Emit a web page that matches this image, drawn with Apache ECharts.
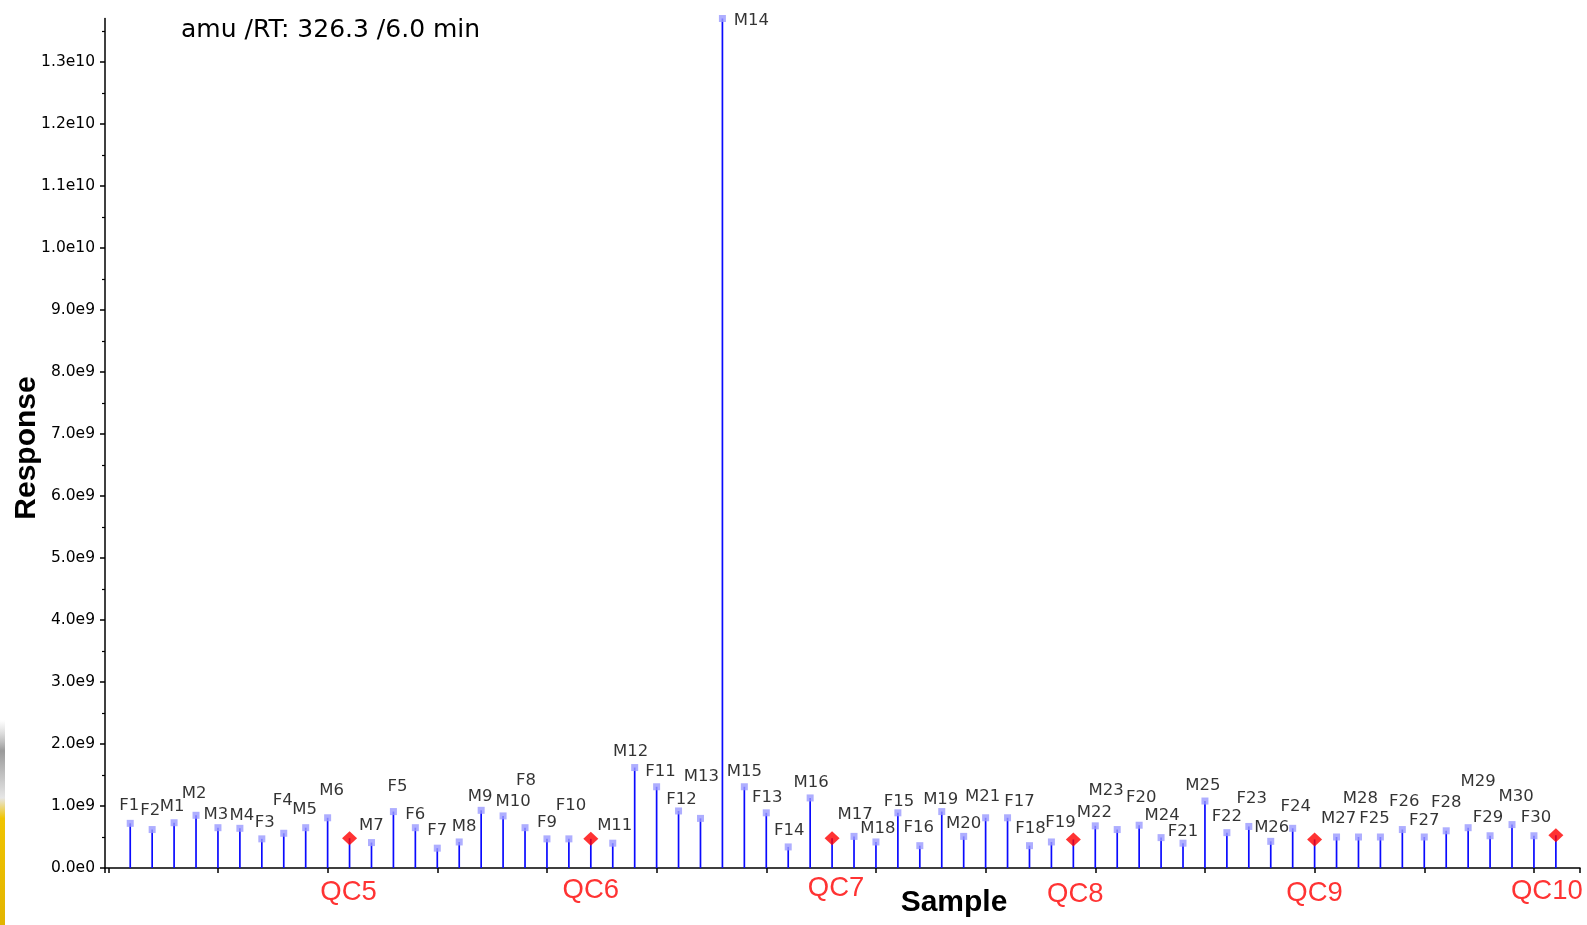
<!DOCTYPE html>
<html>
<head>
<meta charset="utf-8">
<script src="https://cdn.jsdelivr.net/npm/echarts@6/dist/echarts.min.js"></script>
<style>
  html, body { margin: 0; padding: 0; background: #ffffff; }
  #chart { width: 1587px; height: 925px; }
</style>
</head>
<body>
<div id="chart"></div>
<script>
// Injection order of the run (F = female, M = male, QC = pooled quality control)
const sampleNames = [
  'F1','F2','M1','M2','M3','M4','F3','F4','M5','M6','QC5',
  'M7','F5','F6','F7','M8','M9','M10','F8','F9','F10','QC6',
  'M11','M12','F11','F12','M13','M14','M15','F13','F14','M16','QC7',
  'M17','M18','F15','F16','M19','M20','M21','F17','F18','F19','QC8',
  'M22','M23','F20','M24','F21','M25','F22','F23','M26','F24','QC9',
  'M27','M28','F25','F26','F27','F28','M29','F29','M30','F30','QC10'
];

// Peak response at m/z 326.3, RT 6.0 min
const responses = [
  0.72e9, 0.62e9, 0.73e9, 0.85e9, 0.65e9, 0.64e9, 0.47e9, 0.56e9, 0.65e9, 0.81e9, 0.48e9,
  0.41e9, 0.91e9, 0.65e9, 0.32e9, 0.42e9, 0.93e9, 0.84e9, 0.65e9, 0.47e9, 0.47e9, 0.47e9,
  0.40e9, 1.62e9, 1.31e9, 0.92e9, 0.80e9, 13.7e9, 1.31e9, 0.89e9, 0.34e9, 1.13e9, 0.48e9,
  0.51e9, 0.42e9, 0.89e9, 0.36e9, 0.91e9, 0.51e9, 0.81e9, 0.81e9, 0.36e9, 0.42e9, 0.46e9,
  0.68e9, 0.62e9, 0.69e9, 0.49e9, 0.40e9, 1.08e9, 0.57e9, 0.67e9, 0.43e9, 0.64e9, 0.46e9,
  0.50e9, 0.50e9, 0.50e9, 0.62e9, 0.50e9, 0.60e9, 0.65e9, 0.52e9, 0.70e9, 0.52e9, 0.53e9
];

// Response axis ticks and their labels
const yTickValues = [0, 1e9, 2e9, 3e9, 4e9, 5e9, 6e9, 7e9, 8e9, 9e9, 1e10, 1.1e10, 1.2e10, 1.3e10];
const yTickLabels = ['0.0e0','1.0e9','2.0e9','3.0e9','4.0e9','5.0e9','6.0e9','7.0e9','8.0e9','9.0e9','1.0e10','1.1e10','1.2e10','1.3e10'];
const yAxisMax = 1.37e10;

// Label placement nudges (px from the point), so neighbouring names do not collide
const labelOffsets = {
  F1:[-1,-18], F2:[-2,-19], M1:[-2,-16], M2:[-2,-22], M3:[-2,-13], M4:[2,-13], F3:[3,-16], F4:[-1,-33], M5:[-1,-18], M6:[4,-27],
  M7:[0,-17], F5:[4,-25], F6:[0,-13], F7:[0,-17], M8:[5,-15], M9:[-1,-14], M10:[10,-14], F8:[1,-47], F9:[0,-16], F10:[2,-33],
  M11:[2,-17], M12:[-4,-16], F11:[4,-15], F12:[3,-11], M13:[1,-42], M14:[29,2], M15:[0,-15], F13:[1,-15], F14:[1,-16], M16:[1,-15],
  M17:[1,-22], M18:[2,-13], F15:[1,-11], F16:[-1,-18], M19:[-1,-12], M20:[0,-13], M21:[-3,-21], F17:[12,-16], F18:[1,-17], F19:[9,-19],
  M22:[-1,-13], M23:[-11,-39], F20:[2,-27], M24:[1,-22], F21:[0,-11], M25:[-2,-15], F22:[0,-16], F23:[3,-28], M26:[1,-14], F24:[3,-22],
  M27:[2,-18], M28:[2,-38], F25:[-6,-18], F26:[2,-28], F27:[0,-16], F28:[0,-28], M29:[10,-46], F29:[-2,-18], M30:[4,-28], F30:[2,-18],
  QC5:[-1,24], QC6:[0,22], QC7:[4,20], QC8:[2,26], QC9:[0,25], QC10:[-9,23]
};

const isQC = name => name.indexOf('QC') === 0;
const points = sampleNames.map((name, i) => [i + 1, responses[i], name]);

const markerData = points.map(p => {
  const qc = isQC(p[2]);
  return {
    name: p[2],
    value: [p[0], p[1]],
    symbol: qc ? 'diamond' : 'rect',
    symbolSize: qc ? [15, 14] : 7,
    itemStyle: { color: qc ? '#ff0000' : '#9a9aff' },
    label: { show: !qc, offset: labelOffsets[p[2]] || [0, -17] }
  };
});

const qcLabelData = points.filter(p => isQC(p[2])).map(p => ({
  name: p[2],
  value: [p[0], 0],
  label: { offset: labelOffsets[p[2]] || [0, 23] }
}));

const chart = echarts.init(document.getElementById('chart'), null, { renderer: 'canvas' });

chart.setOption({
  animation: false,
  backgroundColor: '#ffffff',
  grid: { left: 105, right: 7, top: 18.5, bottom: 57, containLabel: false, outerBoundsMode: 'none' },
  xAxis: {
    type: 'value',
    min: -0.15,
    max: 67.1,
    splitNumber: 14,
    minInterval: 5,
    maxInterval: 5,
    axisLine: { show: true, onZero: true, lineStyle: { color: '#000', width: 1.5 } },
    axisTick: { show: true, length: 5, lineStyle: { color: '#000', width: 1.5 } },
    axisLabel: { show: false },
    splitLine: { show: false }
  },
  yAxis: {
    type: 'value',
    min: 0,
    max: yAxisMax,
    interval: 1e9,
    axisLine: { show: true, onZero: false, lineStyle: { color: '#000', width: 1.5 } },
    axisTick: { show: true, length: 5, customValues: yTickValues, lineStyle: { color: '#000', width: 1.5 } },
    minorTick: { show: true, splitNumber: 2, length: 3, lineStyle: { color: '#000', width: 1.2 } },
    axisLabel: {
      show: true,
      customValues: yTickValues,
      margin: 10,
      color: '#000',
      fontFamily: 'DejaVu Sans',
      fontSize: 15.5,
      formatter: v => {
        const k = yTickValues.indexOf(v);
        return k >= 0 ? yTickLabels[k] : '';
      }
    },
    splitLine: { show: false },
    minorSplitLine: { show: false }
  },
  series: [
    {
      // vertical stems from zero up to each response
      type: 'custom',
      coordinateSystem: 'cartesian2d',
      silent: true,
      z: 2,
      data: points.map(p => [p[0], p[1]]),
      renderItem: (params, api) => {
        const x = api.value(0);
        const top = api.coord([x, api.value(1)]);
        const base = api.coord([x, 0]);
        return {
          type: 'line',
          shape: { x1: base[0], y1: base[1], x2: top[0], y2: top[1] },
          style: { stroke: '#0a0aff', lineWidth: 1.7 }
        };
      }
    },
    {
      // sample markers with their names
      type: 'scatter',
      silent: true,
      z: 3,
      data: markerData,
      label: {
        position: 'inside',
        formatter: '{b}',
        color: '#000',
        fontFamily: 'DejaVu Sans',
        fontSize: 16.5
      }
    },
    {
      // QC names under the axis
      type: 'scatter',
      silent: true,
      z: 3,
      symbolSize: 1,
      itemStyle: { color: 'transparent' },
      data: qcLabelData,
      label: {
        show: true,
        position: 'inside',
        formatter: '{b}',
        color: '#ff0000',
        fontFamily: 'Liberation Sans',
        fontSize: 27.5
      }
    }
  ],
  graphic: [
    {
      type: 'text',
      left: 181,
      top: 18,
      silent: true,
      style: { text: 'amu /RT: 326.3 /6.0 min', fill: '#000', fontFamily: 'DejaVu Sans', fontSize: 25 }
    },
    {
      type: 'text',
      x: 954,
      y: 903,
      silent: true,
      style: { text: 'Sample', fill: '#000', fontFamily: 'Liberation Sans', fontWeight: 'bold', fontSize: 30, align: 'center', verticalAlign: 'middle' }
    },
    {
      type: 'text',
      x: 26.5,
      y: 448,
      rotation: Math.PI / 2,
      silent: true,
      style: { text: 'Response', fill: '#000', fontFamily: 'Liberation Sans', fontWeight: 'bold', fontSize: 30, align: 'center', verticalAlign: 'middle' }
    },
    {
      // narrow window-edge strip along the lower left border
      type: 'rect',
      silent: true,
      shape: { x: 0, y: 720, width: 5, height: 205 },
      style: {
        fill: new echarts.graphic.LinearGradient(0, 0, 0, 1, [
          { offset: 0, color: 'rgba(190,190,190,0)' },
          { offset: 0.15, color: '#9a9a9a' },
          { offset: 0.38, color: '#e6e6e6' },
          { offset: 0.48, color: '#f0c400' },
          { offset: 1, color: '#e2b400' }
        ])
      }
    }
  ]
});
</script>
</body>
</html>
